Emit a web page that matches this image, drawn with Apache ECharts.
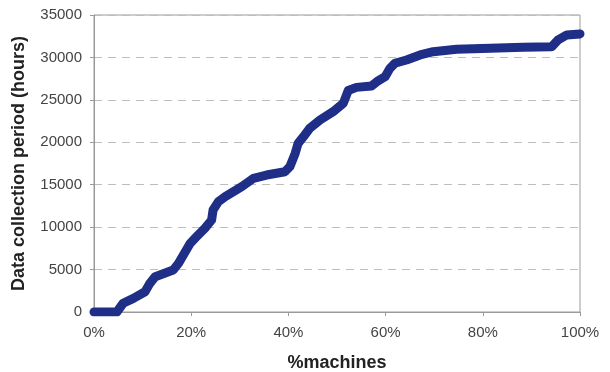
<!DOCTYPE html>
<html>
<head>
<meta charset="utf-8">
<script src="https://cdn.jsdelivr.net/npm/echarts@6/dist/echarts.min.js"></script>
<style>
  html, body { margin: 0; padding: 0; background: #fff; }
  #main { width: 610px; height: 372px; }
</style>
</head>
<body>
<div id="main"></div>
<script>
// % of machines (x) and data collection period in hours (y)
var machinesPct = [0, 4.7, 6.0, 8.1, 10.5, 11.5, 12.6, 16.3, 17.4, 19.8, 21.1, 22.8, 24.2, 24.5, 25.6, 27.0, 28.7, 30.4, 32.8, 35.5, 39.3, 40.3, 41.4, 42.0, 43.1, 44.4, 46.5, 49.2, 51.3, 52.3, 54.0, 57.1, 58.2, 59.9, 60.9, 61.9, 64.3, 67.1, 69.8, 74.6, 81.5, 88.3, 94.2, 95.5, 97.3, 100];
var periodHours = [0, 0, 1030, 1610, 2390, 3380, 4160, 4950, 5740, 8100, 8870, 9860, 10840, 12020, 13000, 13590, 14180, 14770, 15750, 16140, 16530, 17120, 18700, 19880, 20660, 21650, 22630, 23610, 24600, 26100, 26470, 26630, 27140, 27730, 28720, 29310, 29700, 30290, 30680, 30960, 31080, 31190, 31270, 32060, 32650, 32770];
var yTicks = [0, 5000, 10000, 15000, 20000, 25000, 30000, 35000];
var xTicks = [0, 20, 40, 60, 80, 100];

var points = machinesPct.map(function (p, i) { return [p, periodHours[i]]; });

var chart = echarts.init(document.getElementById('main'));
chart.setOption({
  animation: false,
  grid: {
    left: 94, right: 30, top: 15, bottom: 60,
    outerBoundsMode: 'none', containLabel: false,
    show: true, borderColor: '#9a9a9a', borderWidth: 1
  },
  xAxis: {
    type: 'value',
    min: xTicks[0], max: xTicks[xTicks.length - 1], interval: 20,
    name: '%machines',
    nameLocation: 'middle',
    nameGap: 42,
    nameTextStyle: { fontFamily: 'Liberation Sans', fontSize: 18, fontWeight: 'bold', color: '#222' },
    axisLine: { show: true, lineStyle: { color: '#9a9a9a' } },
    axisTick: { show: true, length: 4, lineStyle: { color: '#9a9a9a' } },
    axisLabel: { formatter: '{value}%', margin: 13, fontFamily: 'Liberation Sans', fontSize: 15, color: '#444' },
    splitLine: { show: false }
  },
  yAxis: {
    type: 'value',
    min: yTicks[0], max: yTicks[yTicks.length - 1], interval: 5000,
    name: 'Data collection period (hours)',
    nameLocation: 'middle',
    nameGap: 66,
    nameTextStyle: { fontFamily: 'Liberation Sans', fontSize: 18, fontWeight: 'bold', color: '#222' },
    axisLine: { show: true, lineStyle: { color: '#9a9a9a' } },
    axisTick: { show: true, length: 4, lineStyle: { color: '#9a9a9a' } },
    axisLabel: { formatter: function (v) { return String(v); }, margin: 12, fontFamily: 'Liberation Sans', fontSize: 15, color: '#444' },
    splitLine: { show: true, lineStyle: { color: '#bdbdbd', type: [8, 6] } }
  },
  series: [{
    type: 'line',
    data: points,
    symbol: 'none',
    lineStyle: { color: '#1f2e86', width: 9, cap: 'round', join: 'round' }
  }]
});
</script>
</body>
</html>
